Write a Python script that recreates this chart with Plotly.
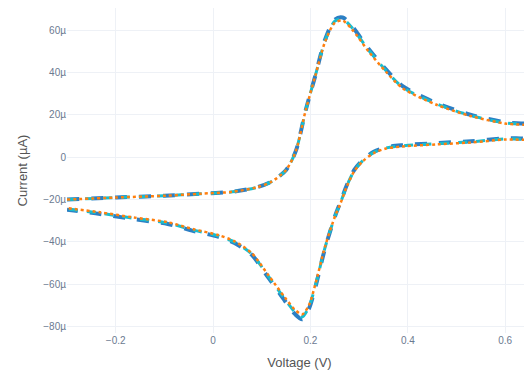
import plotly.graph_objects as go

# Forward scan (oxidation) voltage and currents (µA)
v_fwd = [-0.30, -0.20, -0.10, -0.025, 0.04, 0.09, 0.12, 0.15, 0.17, 0.19, 0.21, 0.23,
         0.25, 0.266, 0.285, 0.32, 0.355, 0.39, 0.46, 0.53, 0.60, 0.662]
i_fwd_blue = [-20.0, -19.0, -18.2, -17.2, -16.3, -14.2, -11.5, -6.0, 3.0, 22.0, 38.5, 55.5,
              65.0, 66.0, 62.0, 51.0, 41.5, 33.5, 25.5, 20.0, 16.5, 14.8]
i_fwd_teal = [-20.0, -19.0, -18.2, -17.2, -16.3, -14.2, -11.5, -6.0, 3.0, 22.0, 38.5, 55.0,
              64.3, 65.3, 61.3, 50.5, 41.0, 33.0, 25.1, 19.7, 16.2, 14.5]
i_fwd_orange = [-20.0, -19.0, -18.2, -17.2, -16.3, -14.2, -11.5, -6.0, 3.0, 22.0, 38.5, 54.5,
                63.5, 64.5, 60.5, 49.8, 40.4, 32.5, 24.7, 19.4, 15.9, 14.2]

# Reverse scan (reduction)
v_rev = [0.662, 0.60, 0.53, 0.46, 0.39, 0.355, 0.33, 0.307, 0.29, 0.275, 0.262, 0.251,
         0.23, 0.21, 0.197, 0.183, 0.168, 0.148, 0.114, 0.079, 0.044, 0.01, -0.04,
         -0.093, -0.164, -0.232, -0.30]
i_rev_blue = [9.6, 9.0, 7.6, 6.7, 5.7, 4.7, 2.6, -1.4, -6.0, -13.0, -21.0, -27.5,
              -43.0, -61.5, -71.5, -76.5, -74.0, -68.0, -57.0, -46.0, -40.5, -37.5, -34.8,
              -31.5, -29.2, -26.8, -24.8]
i_rev_teal = [9.3, 8.7, 7.3, 6.4, 5.4, 4.4, 2.3, -1.7, -6.3, -13.3, -21.3, -27.5,
              -42.6, -60.8, -70.6, -75.4, -73.0, -67.2, -56.4, -45.6, -40.1, -37.1, -34.4,
              -31.1, -28.8, -26.4, -24.4]
i_rev_orange = [9.0, 8.4, 7.0, 6.1, 5.1, 4.1, 2.0, -2.0, -6.6, -13.6, -21.6, -27.5,
                -42.2, -60.0, -69.8, -74.2, -72.0, -66.4, -55.8, -45.2, -39.7, -36.7, -34.0,
                -30.7, -28.4, -26.0, -24.0]

voltage = v_fwd + v_rev
series = [
    ("Measured", i_fwd_blue + i_rev_blue, "#2c7fc4", 4, "dash"),
    ("Fit", i_fwd_teal + i_rev_teal, "#17becf", 3, "dash"),
    ("Simulated", i_fwd_orange + i_rev_orange, "#ff7f0e", 2.5, "dot"),
]

fig = go.Figure()
for name, cur, color, w, dash in series:
    fig.add_trace(go.Scatter(
        x=voltage, y=[c * 1e-6 for c in cur], mode="lines", name=name,
        line=dict(color=color, width=w, dash=dash, shape="spline", smoothing=0.8),
    ))

fig.update_layout(
    template="plotly_white",
    width=524, height=366,
    margin=dict(l=59, r=0, t=0, b=41),
    showlegend=False,
    font=dict(family="Liberation Sans, Arial, sans-serif", size=10, color="#6b7a90"),
    xaxis=dict(title=dict(text="Voltage (V)", font=dict(size=13, color="#555555"), standoff=12),
               range=[-0.3, 0.655], tickvals=[-0.2, 0, 0.2, 0.4, 0.6],
               ticktext=["−0.2", "0", "0.2", "0.4", "0.6"], zeroline=False,
               showgrid=True, gridcolor="#eef1f6"),
    yaxis=dict(title=dict(text="Current (µA)", font=dict(size=13, color="#555555"), standoff=12),
               range=[-83e-6, 70.5e-6], tickvals=[-80e-6, -60e-6, -40e-6, -20e-6, 0, 20e-6, 40e-6, 60e-6],
               ticktext=["−80µ", "−60µ", "−40µ", "−20µ", "0", "20µ", "40µ", "60µ"],
               zeroline=False, showgrid=True, gridcolor="#eef1f6"),
)

fig.write_html("out.html")
